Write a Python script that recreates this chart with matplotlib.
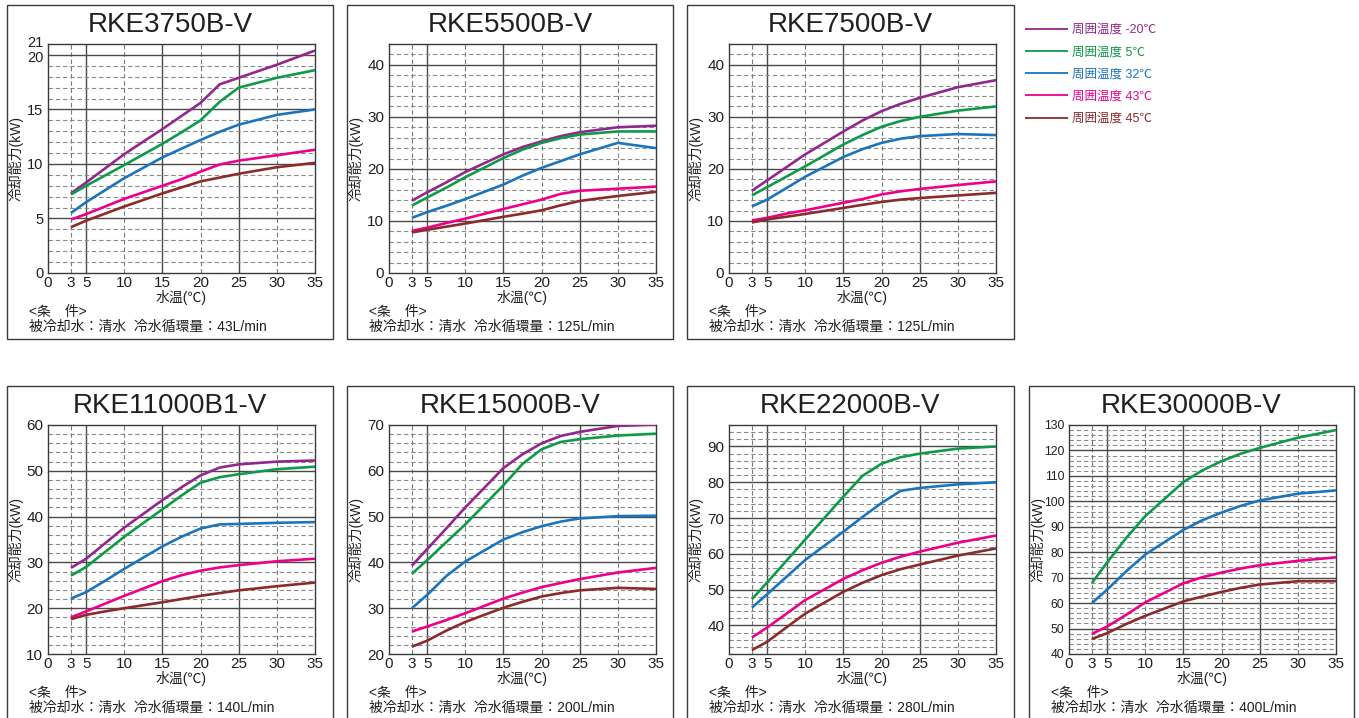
import matplotlib
matplotlib.use("Agg")
import matplotlib.pyplot as plt
from matplotlib import font_manager
from matplotlib.patches import Rectangle
from matplotlib.transforms import ScaledTranslation

plt.rcParams['font.family'] = ['Liberation Sans', 'Noto Sans CJK JP']

W, H = 1359, 718
TXT = '#231f20'

# water temperature (°C) at which the curves were read
water_temp = [3, 5, 7.5, 10, 15, 17.5, 20, 22.5, 25, 30, 35]
x_ticks = [0, 3, 5, 10, 15, 20, 25, 30, 35]

series_names = ['周囲温度 -20℃', '周囲温度 5℃', '周囲温度 32℃', '周囲温度 43℃', '周囲温度 45℃']
series_colors = ['#92278f', '#0f9a4a', '#1b75bc', '#ec008c', '#8b2b2b']

# cooling capacity (kW), order: -20, 5, 32, 43, 45 ℃ ambient
rke3750 = [
    [7.3, 8.3, 9.6, 10.9, 13.2, 14.4, 15.6, 17.3, 17.9, 19.1, 20.4],
    [7.2, 8.0, 8.95, 9.9, 11.85, 12.9, 14.0, 15.7, 17.0, 17.9, 18.6],
    [5.5, 6.5, 7.6, 8.7, 10.6, 11.4, 12.2, 12.95, 13.6, 14.5, 15.0],
    [4.9, 5.4, 6.1, 6.8, 8.0, 8.6, 9.3, 9.95, 10.3, 10.8, 11.3],
    [4.2, 4.8, 5.45, 6.1, 7.3, 7.85, 8.4, 8.75, 9.1, 9.7, 10.1],
]
rke5500 = [
    [13.9, 15.5, 17.4, 19.4, 22.8, 24.2, 25.3, 26.3, 27.05, 28.0, 28.3],
    [12.95, 14.5, 16.4, 18.4, 22.1, 23.7, 25.0, 25.9, 26.6, 27.2, 27.2],
    [10.6, 11.7, 12.9, 14.2, 17.0, 18.7, 20.2, 21.5, 22.8, 25.0, 24.0],
    [8.1, 8.7, 9.6, 10.45, 12.3, 13.2, 14.1, 15.2, 15.8, 16.2, 16.6],
    [7.8, 8.3, 8.9, 9.5, 10.8, 11.4, 12.05, 13.0, 13.85, 14.8, 15.6],
]
rke7500 = [
    [15.8, 17.8, 20.3, 22.8, 27.2, 29.3, 31.1, 32.5, 33.65, 35.7, 37.05],
    [14.9, 16.5, 18.5, 20.5, 24.7, 26.5, 28.1, 29.2, 30.0, 31.2, 32.0],
    [12.8, 14.1, 16.3, 18.5, 22.3, 23.8, 25.0, 25.8, 26.3, 26.7, 26.5],
    [10.1, 10.6, 11.4, 12.05, 13.5, 14.2, 15.1, 15.7, 16.15, 16.9, 17.6],
    [9.7, 10.3, 10.8, 11.35, 12.5, 13.1, 13.65, 14.1, 14.4, 14.9, 15.4],
]
rke11000 = [
    [28.8, 30.8, 34.2, 37.6, 43.6, 46.4, 49.0, 50.7, 51.4, 52.0, 52.25],
    [27.1, 29.0, 32.3, 35.6, 41.6, 44.6, 47.4, 48.6, 49.25, 50.35, 50.9],
    [22.1, 23.5, 26.0, 28.6, 33.5, 35.6, 37.4, 38.3, 38.4, 38.65, 38.8],
    [18.0, 19.3, 21.0, 22.7, 25.9, 27.2, 28.2, 28.9, 29.4, 30.25, 30.8],
    [17.6, 18.55, 19.3, 20.0, 21.3, 22.0, 22.7, 23.3, 23.9, 24.8, 25.6],
]
rke15000 = [
    [39.3, 42.9, 47.4, 52.0, 60.6, 63.6, 66.0, 67.6, 68.5, 69.8, 70.1],
    [37.5, 40.5, 44.4, 48.3, 56.85, 61.5, 64.7, 66.3, 66.9, 67.7, 68.1],
    [30.0, 32.9, 37.0, 40.2, 45.0, 46.6, 47.9, 48.9, 49.6, 50.1, 50.2],
    [24.9, 26.0, 27.4, 28.9, 32.1, 33.4, 34.6, 35.5, 36.35, 37.8, 38.8],
    [21.6, 22.9, 25.1, 27.0, 30.1, 31.4, 32.55, 33.3, 33.9, 34.45, 34.2],
]
rke22000 = [
    None,
    [47.3, 52.0, 58.0, 64.0, 76.0, 81.8, 85.2, 87.0, 88.0, 89.4, 90.0],
    [44.95, 48.7, 53.5, 58.3, 66.2, 70.3, 74.2, 77.6, 78.4, 79.4, 80.0],
    [36.6, 39.4, 43.2, 47.1, 53.0, 55.4, 57.5, 59.2, 60.6, 63.1, 65.1],
    [33.1, 35.4, 39.4, 43.3, 49.4, 51.9, 54.05, 55.7, 57.0, 59.5, 61.5],
]
rke30000 = [
    None,
    [67.9, 76.0, 85.6, 94.2, 107.6, 112.2, 115.8, 118.7, 121.0, 125.0, 128.0],
    [60.0, 65.3, 72.5, 79.1, 88.8, 92.6, 95.6, 98.2, 100.35, 103.0, 104.3],
    [47.9, 50.8, 55.4, 60.3, 67.8, 70.2, 72.0, 73.6, 74.9, 76.6, 78.0],
    [45.9, 48.2, 51.8, 55.0, 60.7, 62.6, 64.4, 66.0, 67.3, 68.6, 68.6],
]

# narrow face for the crowded 3-digit tick labels, if it is installed
try:
    font_manager.findfont('Liberation Sans Narrow', fallback_to_default=False)
    NARROW = 'Liberation Sans Narrow'
except ValueError:
    NARROW = 'Liberation Sans'

# pixel layout
frame_x = [(7, 333), (347, 673), (687, 1014), (1029, 1354)]
frame_y = [(5, 339), (386, 740)]
axes_left = [48, 389, 729, 1069]
axes_top = [44, 425]
AW, AH = 267, 229


def fx(px):
    return px / W


def fy(py):
    return 1 - py / H


fig = plt.figure(figsize=(W / 100, H / 100), dpi=100)


def draw_panel(col, row, title, flow, ylim, yticks, minor, curves, ysize=11, yfamily=None):
    x0, x1 = frame_x[col]
    y0, y1 = frame_y[row]
    fig.add_artist(Rectangle((fx(x0), fy(y1)), fx(x1 - x0), (y1 - y0) / H,
                             transform=fig.transFigure, fill=False,
                             edgecolor='#3a3a3a', linewidth=1.0))
    fig.text(fx((x0 + x1) / 2), fy(y0 + 20), title, ha='center', va='center',
             fontsize=20, color=TXT)

    left, top = axes_left[col], axes_top[row]
    ax = fig.add_axes([fx(left), fy(top + AH), AW / W, AH / H])
    ax.set_xlim(0, 35)
    ax.set_ylim(*ylim)

    # grid
    for v in [3, 10, 20, 30]:
        ax.axvline(v, color='#7a7a7a', lw=0.8, ls=(0, (4, 2.5)), zorder=1)
    for v in [5, 15, 25]:
        ax.axvline(v, color='#4a4a4a', lw=1.0, zorder=1)
    major = yticks[1] - yticks[0] if len(yticks) > 1 else 10
    v = ylim[0] + minor
    while v < ylim[1] - 1e-6:
        if abs((v - yticks[0]) / major - round((v - yticks[0]) / major)) < 1e-6:
            ax.axhline(v, color='#4a4a4a', lw=1.0, zorder=1)
        else:
            ax.axhline(v, color='#8a8a8a', lw=0.8, ls=(0, (4, 2.5)), zorder=1)
        v += minor

    for vals, color, name in zip(curves, series_colors, series_names):
        if vals is None:
            continue
        ax.plot(water_temp, vals, color=color, lw=1.9, label=name, zorder=3,
                solid_capstyle='butt')

    for s in ax.spines.values():
        s.set_color('#3a3a3a')
        s.set_linewidth(1.0)
    ax.set_xticks(x_ticks)
    ax.set_yticks(yticks)
    ax.tick_params(length=0, colors=TXT)
    ax.tick_params(axis='x', pad=2.5, labelsize=11)
    ax.tick_params(axis='y', pad=3.5, labelsize=ysize)
    if yfamily:
        for t in ax.get_yticklabels():
            t.set_family([yfamily, 'Liberation Sans'])

    fig.text(fx(left + AW / 2), fy(top + AH + 25), '水温(℃)', ha='center',
             va='center', fontsize=10, color=TXT)
    fig.text(fx(x0 + 9), fy(top + AH / 2), '冷却能力(kW)', rotation=90,
             ha='center', va='center', fontsize=10, color=TXT)
    fig.text(fx(x0 + 22), fy(top + AH + 39), '<条　件>', ha='left',
             va='center', fontsize=10, color=TXT)
    fig.text(fx(x0 + 22), fy(top + AH + 54),
             '被冷却水：清水  冷水循環量：' + flow, ha='left', va='center',
             fontsize=10, color=TXT)
    return ax


ax1 = draw_panel(0, 0, 'RKE3750B-V', '43L/min', (0, 21), [0, 5, 10, 15, 20, 21], 1, rke3750, ysize=10.5)
# lift the "21" label a little so it clears "20"
lab21 = ax1.get_yticklabels()[-1]
lab21.set_transform(lab21.get_transform() + ScaledTranslation(0, 2 / 72, fig.dpi_scale_trans))
lab20 = ax1.get_yticklabels()[-2]
lab20.set_transform(lab20.get_transform() + ScaledTranslation(0, -1.5 / 72, fig.dpi_scale_trans))

draw_panel(1, 0, 'RKE5500B-V', '125L/min', (0, 44), [0, 10, 20, 30, 40], 2, rke5500)
draw_panel(2, 0, 'RKE7500B-V', '125L/min', (0, 44), [0, 10, 20, 30, 40], 2, rke7500)
draw_panel(0, 1, 'RKE11000B1-V', '140L/min', (10, 60), [10, 20, 30, 40, 50, 60], 2, rke11000)
draw_panel(1, 1, 'RKE15000B-V', '200L/min', (20, 70), [20, 30, 40, 50, 60, 70], 2, rke15000)
draw_panel(2, 1, 'RKE22000B-V', '280L/min', (32, 96), [40, 50, 60, 70, 80, 90], 2, rke22000)
draw_panel(3, 1, 'RKE30000B-V', '400L/min', (40, 130), list(range(40, 131, 10)), 2, rke30000,
           ysize=10 if NARROW != 'Liberation Sans' else 8.8, yfamily=NARROW)

handles, labels = ax1.get_legend_handles_labels()
leg = fig.legend(handles, labels, loc='upper left', bbox_to_anchor=(fx(1025), fy(24)),
                 frameon=False, fontsize=9, handlelength=3.4, handletextpad=0.4,
                 labelspacing=0.82, borderpad=0, borderaxespad=0)
for t, c in zip(leg.get_texts(), series_colors):
    t.set_color(c)
for l in leg.get_lines():
    l.set_linewidth(1.3)

fig.savefig('out.png', dpi=100)
